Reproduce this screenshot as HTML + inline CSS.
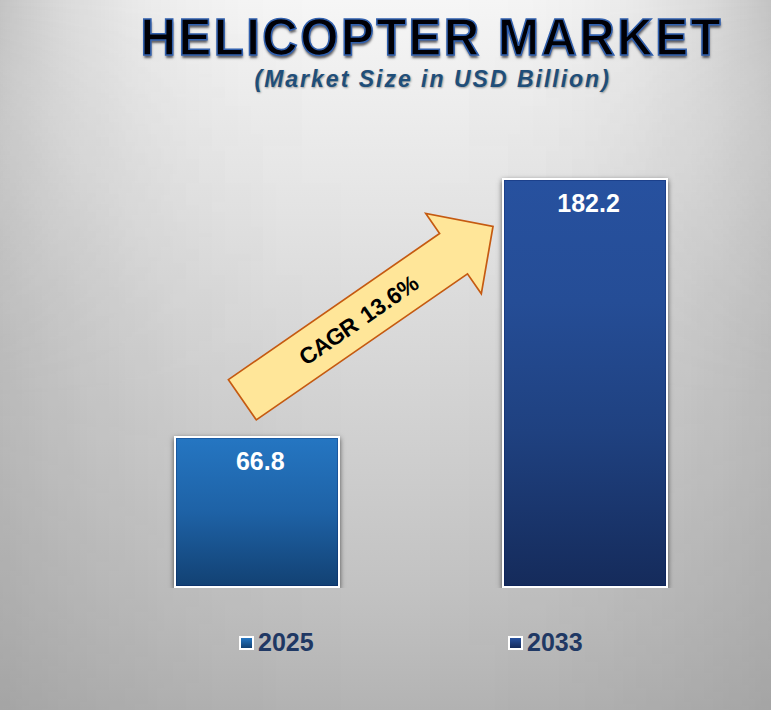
<!DOCTYPE html>
<html>
<head>
<meta charset="utf-8">
<title>Helicopter Market</title>
<style>
  html, body { margin: 0; padding: 0; }
  body {
    width: 771px; height: 710px; overflow: hidden; position: relative;
    font-family: "Liberation Sans", sans-serif;
    background: #b8b8b8;
  }
  #bg {
    position: absolute; left: 0; top: 0; width: 771px; height: 710px;
    background: linear-gradient(to bottom, rgb(246,246,246) 0.00%, rgb(238,238,238) 12.96%, rgb(228,228,228) 29.86%, rgb(220,220,220) 42.25%, rgb(207,207,207) 63.38%, rgb(194,194,194) 83.10%, rgb(187,187,187) 91.55%, rgb(179,179,179) 100.00%);
  }
  #vig {
    position: absolute; left: 0; top: 0; width: 771px; height: 710px;
    background: linear-gradient(to right, rgba(0,0,0,0.2070) 0.00%, rgba(0,0,0,0.1857) 1.67%, rgba(0,0,0,0.1660) 3.33%, rgba(0,0,0,0.1478) 5.00%, rgba(0,0,0,0.1309) 6.67%, rgba(0,0,0,0.1155) 8.33%, rgba(0,0,0,0.1014) 10.00%, rgba(0,0,0,0.0885) 11.67%, rgba(0,0,0,0.0767) 13.33%, rgba(0,0,0,0.0661) 15.00%, rgba(0,0,0,0.0566) 16.67%, rgba(0,0,0,0.0480) 18.33%, rgba(0,0,0,0.0404) 20.00%, rgba(0,0,0,0.0336) 21.67%, rgba(0,0,0,0.0277) 23.33%, rgba(0,0,0,0.0225) 25.00%, rgba(0,0,0,0.0181) 26.67%, rgba(0,0,0,0.0142) 28.33%, rgba(0,0,0,0.0110) 30.00%, rgba(0,0,0,0.0083) 31.67%, rgba(0,0,0,0.0062) 33.33%, rgba(0,0,0,0.0044) 35.00%, rgba(0,0,0,0.0030) 36.67%, rgba(0,0,0,0.0020) 38.33%, rgba(0,0,0,0.0012) 40.00%, rgba(0,0,0,0.0007) 41.67%, rgba(0,0,0,0.0003) 43.33%, rgba(0,0,0,0.0001) 45.00%, rgba(0,0,0,0.0000) 46.67%, rgba(0,0,0,0.0000) 48.33%, rgba(0,0,0,0.0000) 50.00%, rgba(0,0,0,0.0000) 51.67%, rgba(0,0,0,0.0000) 53.33%, rgba(0,0,0,0.0001) 55.00%, rgba(0,0,0,0.0003) 56.67%, rgba(0,0,0,0.0007) 58.33%, rgba(0,0,0,0.0012) 60.00%, rgba(0,0,0,0.0020) 61.67%, rgba(0,0,0,0.0030) 63.33%, rgba(0,0,0,0.0044) 65.00%, rgba(0,0,0,0.0062) 66.67%, rgba(0,0,0,0.0083) 68.33%, rgba(0,0,0,0.0110) 70.00%, rgba(0,0,0,0.0142) 71.67%, rgba(0,0,0,0.0181) 73.33%, rgba(0,0,0,0.0225) 75.00%, rgba(0,0,0,0.0277) 76.67%, rgba(0,0,0,0.0336) 78.33%, rgba(0,0,0,0.0404) 80.00%, rgba(0,0,0,0.0480) 81.67%, rgba(0,0,0,0.0566) 83.33%, rgba(0,0,0,0.0661) 85.00%, rgba(0,0,0,0.0767) 86.67%, rgba(0,0,0,0.0885) 88.33%, rgba(0,0,0,0.1014) 90.00%, rgba(0,0,0,0.1155) 91.67%, rgba(0,0,0,0.1309) 93.33%, rgba(0,0,0,0.1478) 95.00%, rgba(0,0,0,0.1660) 96.67%, rgba(0,0,0,0.1857) 98.33%, rgba(0,0,0,0.2070) 100.00%);
    -webkit-mask-image: linear-gradient(to bottom, rgba(0,0,0,1.0000) 0.00%, rgba(0,0,0,0.7585) 8.45%, rgba(0,0,0,0.5700) 16.20%, rgba(0,0,0,0.4251) 25.35%, rgba(0,0,0,0.2705) 35.21%, rgba(0,0,0,0.1449) 44.37%, rgba(0,0,0,0.0000) 56.34%, rgba(0,0,0,0.0000) 100.00%);
    mask-image: linear-gradient(to bottom, rgba(0,0,0,1.0000) 0.00%, rgba(0,0,0,0.7585) 8.45%, rgba(0,0,0,0.5700) 16.20%, rgba(0,0,0,0.4251) 25.35%, rgba(0,0,0,0.2705) 35.21%, rgba(0,0,0,0.1449) 44.37%, rgba(0,0,0,0.0000) 56.34%, rgba(0,0,0,0.0000) 100.00%);
  }
  #vig2 {
    position: absolute; left: 0; top: 0; width: 771px; height: 710px;
    background: linear-gradient(to right, rgba(0,0,0,0.1200) 0.00%, rgba(0,0,0,0.1125) 1.67%, rgba(0,0,0,0.1053) 3.33%, rgba(0,0,0,0.0982) 5.00%, rgba(0,0,0,0.0914) 6.67%, rgba(0,0,0,0.0849) 8.33%, rgba(0,0,0,0.0785) 10.00%, rgba(0,0,0,0.0724) 11.67%, rgba(0,0,0,0.0666) 13.33%, rgba(0,0,0,0.0609) 15.00%, rgba(0,0,0,0.0555) 16.67%, rgba(0,0,0,0.0504) 18.33%, rgba(0,0,0,0.0455) 20.00%, rgba(0,0,0,0.0408) 21.67%, rgba(0,0,0,0.0363) 23.33%, rgba(0,0,0,0.0322) 25.00%, rgba(0,0,0,0.0282) 26.67%, rgba(0,0,0,0.0245) 28.33%, rgba(0,0,0,0.0210) 30.00%, rgba(0,0,0,0.0178) 31.67%, rgba(0,0,0,0.0149) 33.33%, rgba(0,0,0,0.0122) 35.00%, rgba(0,0,0,0.0097) 36.67%, rgba(0,0,0,0.0076) 38.33%, rgba(0,0,0,0.0056) 40.00%, rgba(0,0,0,0.0040) 41.67%, rgba(0,0,0,0.0026) 43.33%, rgba(0,0,0,0.0015) 45.00%, rgba(0,0,0,0.0007) 46.67%, rgba(0,0,0,0.0002) 48.33%, rgba(0,0,0,0.0000) 50.00%, rgba(0,0,0,0.0002) 51.67%, rgba(0,0,0,0.0007) 53.33%, rgba(0,0,0,0.0015) 55.00%, rgba(0,0,0,0.0026) 56.67%, rgba(0,0,0,0.0040) 58.33%, rgba(0,0,0,0.0056) 60.00%, rgba(0,0,0,0.0076) 61.67%, rgba(0,0,0,0.0097) 63.33%, rgba(0,0,0,0.0122) 65.00%, rgba(0,0,0,0.0149) 66.67%, rgba(0,0,0,0.0178) 68.33%, rgba(0,0,0,0.0210) 70.00%, rgba(0,0,0,0.0245) 71.67%, rgba(0,0,0,0.0282) 73.33%, rgba(0,0,0,0.0322) 75.00%, rgba(0,0,0,0.0363) 76.67%, rgba(0,0,0,0.0408) 78.33%, rgba(0,0,0,0.0455) 80.00%, rgba(0,0,0,0.0504) 81.67%, rgba(0,0,0,0.0555) 83.33%, rgba(0,0,0,0.0609) 85.00%, rgba(0,0,0,0.0666) 86.67%, rgba(0,0,0,0.0724) 88.33%, rgba(0,0,0,0.0785) 90.00%, rgba(0,0,0,0.0849) 91.67%, rgba(0,0,0,0.0914) 93.33%, rgba(0,0,0,0.0982) 95.00%, rgba(0,0,0,0.1053) 96.67%, rgba(0,0,0,0.1125) 98.33%, rgba(0,0,0,0.1200) 100.00%);
    -webkit-mask-image: linear-gradient(to bottom, rgba(0,0,0,0.0000) 0.00%, rgba(0,0,0,0.1750) 8.45%, rgba(0,0,0,0.3250) 16.20%, rgba(0,0,0,0.4917) 25.35%, rgba(0,0,0,0.6917) 35.21%, rgba(0,0,0,0.8500) 44.37%, rgba(0,0,0,1.0000) 56.34%, rgba(0,0,0,0.9583) 61.97%, rgba(0,0,0,0.8167) 85.35%, rgba(0,0,0,0.6417) 100.00%);
    mask-image: linear-gradient(to bottom, rgba(0,0,0,0.0000) 0.00%, rgba(0,0,0,0.1750) 8.45%, rgba(0,0,0,0.3250) 16.20%, rgba(0,0,0,0.4917) 25.35%, rgba(0,0,0,0.6917) 35.21%, rgba(0,0,0,0.8500) 44.37%, rgba(0,0,0,1.0000) 56.34%, rgba(0,0,0,0.9583) 61.97%, rgba(0,0,0,0.8167) 85.35%, rgba(0,0,0,0.6417) 100.00%);
  }
  #title {
    position: absolute; left: 0; top: 9.5px; width: 771px; margin: 0;
    text-align: left; white-space: nowrap;
    font-weight: bold; font-size: 51px; line-height: 56px;
    letter-spacing: 2.5px;
    transform: scaleX(0.965); transform-origin: 140.5px 0;
    color: #000006;
    padding-left: 140.5px; box-sizing: border-box;
    -webkit-text-stroke: 1.6px #3160ae;
    text-shadow: 0.5px 2.5px 2.5px rgba(0,0,10,0.6);
  }
  #subtitle {
    position: absolute; left: 254.5px; top: 65.8px; margin: 0; white-space: nowrap;
    font-weight: bold; font-style: italic; font-size: 23px; line-height: 26px;
    letter-spacing: 2.0px;
    color: #1f4e79;
    text-shadow: 1px 1px 2px rgba(0,0,0,0.35);
  }
  .plot { position: absolute; left: 0; top: 0; width: 771px; height: 588px; overflow: hidden; }
  .bar {
    position: absolute; box-sizing: border-box; border: 2px solid #ffffff;
    box-shadow: 0 2px 5px 0 rgba(0,0,0,0.62), inset 0 0 0 1px rgba(0,20,90,0.28);
  }
  #bar1 { left: 174px; top: 436px; width: 166px; height: 152px;
    background: linear-gradient(to bottom, #2576c2 0%, #1e62a6 50%, #124173 100%); }
  #bar2 { left: 502px; top: 178px; width: 166px; height: 410px;
    background: linear-gradient(to bottom, #27519f 0%, #254d96 30%, #1f4180 62%, #152b5b 100%); }
  .val {
    position: absolute; color: #ffffff; font-weight: bold; font-size: 25px; line-height: 28px;
    white-space: nowrap; text-align: center; width: 166px;
  }
  #val1 { left: 177.3px; top: 447px; }
  #val2 { left: 505.6px; top: 189px; }
  .legend { position: absolute; top: 628.2px; height: 28px; white-space: nowrap;
    font-weight: bold; font-size: 25px; line-height: 28px; color: #1f3864; }
  .sw { position: absolute; top: 636px; width: 15px; height: 14px; box-sizing: border-box; border: 2px solid #ffffff; }
  #sw1 { left: 239px; background: linear-gradient(to bottom, #2576c2, #124173); }
  #sw2 { left: 508px; background: linear-gradient(to bottom, #27519e, #152b5b); }
  #lg1 { left: 258px; }
  #lg2 { left: 527px; }
  #arrow { position: absolute; left: 0; top: 0; }
</style>
</head>
<body>
<div id="bg"></div>
<div id="vig"></div>
<div id="vig2"></div>
<h1 id="title">HELICOPTER MARKET</h1>
<p id="subtitle">(Market Size in USD Billion)</p>

<div class="plot">
  <div class="bar" id="bar1"></div>
  <div class="bar" id="bar2"></div>
</div>
<div class="val" id="val1">66.8</div>
<div class="val" id="val2">182.2</div>

<svg id="arrow" width="771" height="710" viewBox="0 0 771 710">
  <g transform="translate(367.85 312.95) rotate(-34.68)">
    <polygon points="-152.6,-24.5 104.2,-24.5 104.2,-48.8 152.2,0 104.2,48.8 104.2,24.5 -152.6,24.5"
      fill="#ffe699" stroke="#c55a11" stroke-width="1.7" stroke-linejoin="miter"/>
    <text x="-11.5" y="8.6" text-anchor="middle" font-family="Liberation Sans, sans-serif"
      font-weight="bold" font-size="23" fill="#000000"><tspan letter-spacing="-0.6">CAGR</tspan><tspan dx="2.4"> 13.6%</tspan></text>
  </g>
</svg>

<div class="sw" id="sw1"></div><div class="legend" id="lg1">2025</div>
<div class="sw" id="sw2"></div><div class="legend" id="lg2">2033</div>
</body>
</html>
